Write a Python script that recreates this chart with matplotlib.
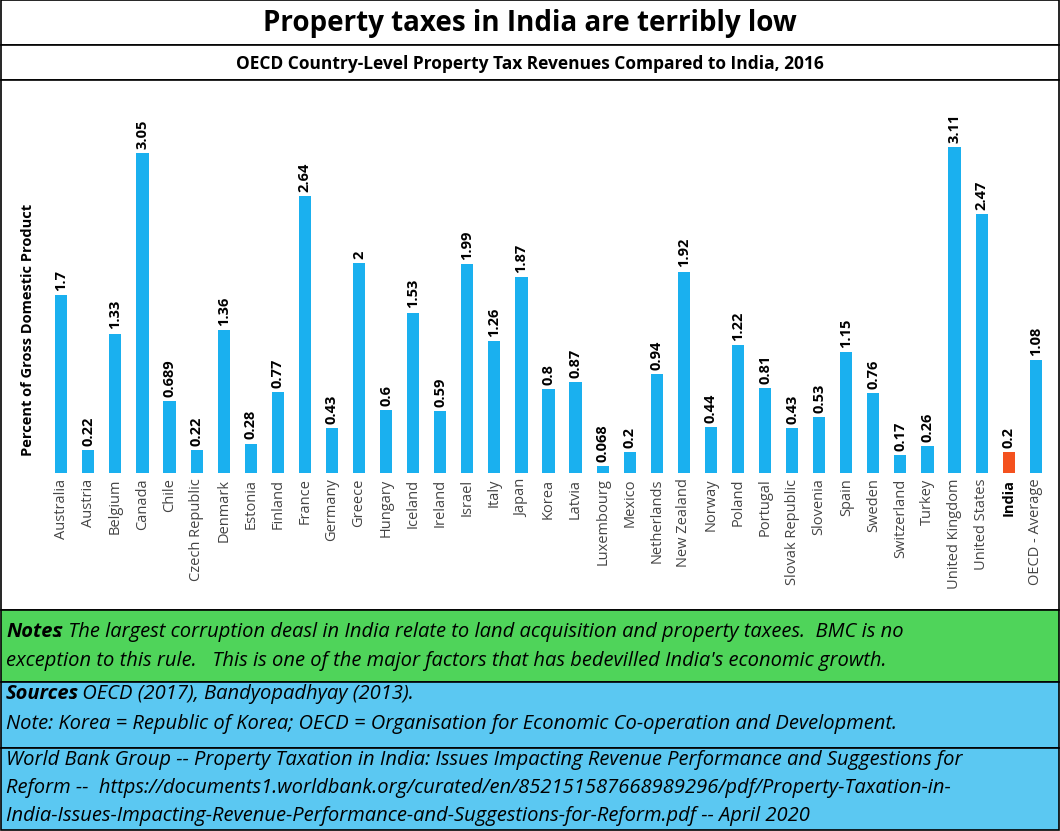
import matplotlib.pyplot as plt
from matplotlib.patches import Rectangle

countries = ["Australia", "Austria", "Belgium", "Canada", "Chile", "Czech Republic", "Denmark",
             "Estonia", "Finland", "France", "Germany", "Greece", "Hungary", "Iceland", "Ireland",
             "Israel", "Italy", "Japan", "Korea", "Latvia", "Luxembourg", "Mexico", "Netherlands",
             "New Zealand", "Norway", "Poland", "Portugal", "Slovak Republic", "Slovenia", "Spain",
             "Sweden", "Switzerland", "Turkey", "United Kingdom", "United States", "India",
             "OECD - Average"]
values = [1.7, 0.22, 1.33, 3.05, 0.689, 0.22, 1.36, 0.28, 0.77, 2.64, 0.43, 2, 0.6, 1.53, 0.59,
          1.99, 1.26, 1.87, 0.8, 0.87, 0.068, 0.2, 0.94, 1.92, 0.44, 1.22, 0.81, 0.43, 0.53, 1.15,
          0.76, 0.17, 0.26, 3.11, 2.47, 0.2, 1.08]

plt.rcParams['font.family'] = ['Open Sans', 'DejaVu Sans']
W, H = 1060, 831
fig = plt.figure(figsize=(W / 100, H / 100), dpi=100)

def fy(px):
    return 1 - px / H

def box(top, bottom, color):
    fig.patches.append(Rectangle((0.5 / W, fy(bottom)), 1 - 1.5 / W, (bottom - top) / H,
                                 transform=fig.transFigure, facecolor=color,
                                 edgecolor='black', linewidth=1.2, zorder=-5))

box(0, 45, 'white')
box(45, 80, 'white')
box(80, 610, 'white')
box(610, 682, '#4fd45a')
box(682, 748, '#5bc8f2')
box(748, 830, '#5bc8f2')

fig.text(0.5, fy(24), "Property taxes in India are terribly low", ha='center', va='center',
         fontsize=20, fontweight='bold')
fig.text(0.5, fy(64), "OECD Country-Level Property Tax Revenues Compared to India, 2016",
         ha='center', va='center', fontsize=12.5, fontweight='bold')

ax = fig.add_axes([45 / W, fy(473), 1007 / W, (473 - 85) / H])
ax.set_zorder(5)
n = len(countries)
colors = ['#1ab0ef'] * n
colors[countries.index("India")] = '#f4511e'
x = range(n)
ax.bar(x, values, width=0.45, color=colors)
for i, v in enumerate(values):
    ax.text(i, v + 0.04, f"{v:g}", rotation=90, ha='center', va='bottom',
            fontsize=10.5, fontweight='bold')
ax.set_xlim(-0.6, n - 1 + 0.6)
ax.set_ylim(0, 3.7)
ax.set_xticks(list(x))
ax.set_xticklabels(countries, rotation=90, fontsize=10.5, color='#444444')
for lbl in ax.get_xticklabels():
    if lbl.get_text() == "India":
        lbl.set_fontweight('bold')
        lbl.set_color('black')
ax.tick_params(axis='x', length=0, pad=4)
ax.set_yticks([])
for s in ax.spines.values():
    s.set_visible(False)
ax.patch.set_alpha(0)
fig.text(28 / W, fy(330), "Percent of Gross Domestic Product", rotation=90, ha='center',
         va='center', fontsize=10.5, fontweight='bold')

fs = 14.5
it = dict(fontsize=fs, style='italic', va='center')
fig.text(6 / W, fy(632), "Notes", fontweight='bold', **it)
fig.text(58 / W, fy(632), ": The largest corruption deasl in India relate to land acquisition and property taxees.  BMC is no", **it)
fig.text(6 / W, fy(661), "exception to this rule.   This is one of the major factors that has bedevilled India's economic growth.", **it)
fig.text(6 / W, fy(694), "Sources", fontweight='bold', **it)
fig.text(72 / W, fy(694), ": OECD (2017), Bandyopadhyay (2013).", **it)
fig.text(6 / W, fy(724), "Note: Korea = Republic of Korea; OECD = Organisation for Economic Co-operation and Development.", **it)
fig.text(6 / W, fy(760), "World Bank Group -- Property Taxation in India: Issues Impacting Revenue Performance and Suggestions for", **it)
fig.text(6 / W, fy(788), "Reform --  https://documents1.worldbank.org/curated/en/852151587668989296/pdf/Property-Taxation-in-", **it)
fig.text(6 / W, fy(816), "India-Issues-Impacting-Revenue-Performance-and-Suggestions-for-Reform.pdf -- April 2020", **it)

fig.savefig("out.png", dpi=100)
